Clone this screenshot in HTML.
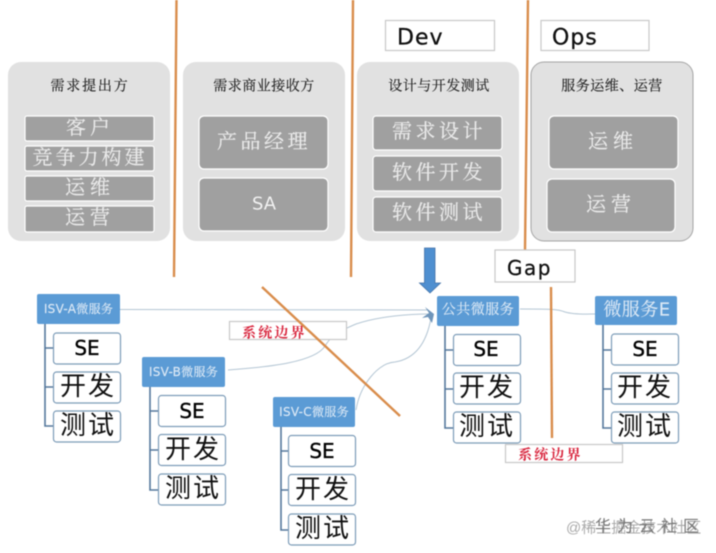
<!DOCTYPE html>
<html lang="zh-CN"><head><meta charset="utf-8">
<style>
html,body{margin:0;padding:0;background:#fff}
svg{display:block;filter:blur(.45px)}
text{text-anchor:middle;dominant-baseline:central}
.t{font-family:"Liberation Serif","Noto Serif CJK SC",serif;font-size:14px;letter-spacing:1.800px;fill:#222;stroke:#222;stroke-width:.15}
.w{font-family:"Liberation Serif","Noto Serif CJK SC",serif;font-size:20px;letter-spacing:3.500px;fill:#eaeaea;stroke:#eaeaea;stroke-width:.2}
.sa{font-family:"DejaVu Sans",sans-serif;font-size:18px;fill:#f2f2f2;letter-spacing:0}
.h{font-family:"DejaVu Sans",sans-serif;font-size:22px;letter-spacing:1px;fill:#111;stroke:#111;stroke-width:.3;text-anchor:start}
.b{font-family:"DejaVu Sans","Noto Serif CJK SC",sans-serif;font-size:12px;letter-spacing:.3px;fill:#dbe8f5;stroke:#dbe8f5;stroke-width:.15}
.c{font-family:"Liberation Sans","Noto Sans CJK SC",sans-serif;font-size:26px;letter-spacing:2px;fill:#111}
.se{font-family:"DejaVu Sans",sans-serif;font-size:20px;fill:#000;stroke:#000;stroke-width:.35;letter-spacing:0}
.r{font-family:"Liberation Serif","Noto Serif CJK SC",serif;font-size:14px;font-weight:700;letter-spacing:2.200px;fill:#d8243c;text-anchor:start}
.wm{font-family:"Liberation Sans","Noto Sans CJK SC",sans-serif;font-size:15px;fill:#8a8a8a;text-anchor:start}
rect.p{fill:#e1e1e1}
rect.i{fill:#a0a0a0;stroke:#fff;stroke-width:1.200}
rect.n{fill:#5b9bd5}
rect.k{fill:#fff;stroke:#7d9cb8;stroke-width:1.200}
rect.l{fill:#fff;stroke:#c8c8c8;stroke-width:1.200}
path.o{stroke:#d98d4c;stroke-width:2.400;fill:none}
path.tr{stroke:#55789c;stroke-width:1.600;fill:none}
path.cn{stroke:#b4c6d4;stroke-width:1;fill:none}
</style></head>
<body>
<svg width="716" height="553" viewBox="0 0 716 553" xmlns="http://www.w3.org/2000/svg">
<rect width="716" height="553" fill="#fff"/>

<!-- orange dividers -->
<path class="o" d="M176.500 0L174 277M353 0L351 277M528 0L525 250"/>

<!-- header labels -->
<rect class="l" x="385.500" y="20.500" width="109" height="30"/>
<text class="h" x="397" y="38">Dev</text>
<rect class="l" x="541" y="20.500" width="108" height="30"/>
<text class="h" x="552" y="38">Ops</text>

<!-- panels -->
<rect class="p" x="8" y="62" width="162" height="179" rx="13"/>
<rect class="p" x="183" y="62" width="162" height="179" rx="13"/>
<rect class="p" x="357" y="62" width="162" height="179" rx="13"/>
<rect class="p" x="531" y="62" width="162" height="179" rx="13" stroke="#a5a5a5" stroke-width="1"/>

<text class="t" x="90" y="87">需求提出方</text>
<text class="t" x="264" y="87" style="letter-spacing:.5px">需求商业接收方</text>
<text class="t" x="439" y="87" style="letter-spacing:.5px">设计与开发测试</text>
<text class="t" x="612" y="87" style="letter-spacing:.5px">服务运维、运营</text>

<rect class="i" x="25" y="116" width="129" height="25" rx="2"/>
<rect class="i" x="25" y="146" width="129" height="25" rx="2"/>
<rect class="i" x="25" y="176" width="129" height="25" rx="2"/>
<rect class="i" x="25" y="206" width="129" height="26" rx="2"/>
<text class="w" x="90" y="128" style="letter-spacing:4px">客户</text>
<text class="w" x="90" y="158" style="letter-spacing:3px">竞争力构建</text>
<text class="w" x="90" y="188" style="letter-spacing:5px">运维</text>
<text class="w" x="90" y="218" style="letter-spacing:5px">运营</text>

<rect class="i" x="199" y="116" width="129" height="53" rx="5"/>
<rect class="i" x="199" y="178" width="129" height="53" rx="5"/>
<text class="w" x="264" y="142">产品经理</text>
<text class="sa" x="264" y="204">SA</text>

<rect class="i" x="373" y="116" width="129" height="34" rx="3"/>
<rect class="i" x="373" y="156" width="129" height="35" rx="3"/>
<rect class="i" x="373" y="197" width="129" height="35" rx="3"/>
<text class="w" x="439" y="132">需求设计</text>
<text class="w" x="439" y="173">软件开发</text>
<text class="w" x="439" y="213">软件测试</text>

<rect class="i" x="549" y="116" width="129" height="53" rx="5"/>
<rect class="i" x="547" y="179" width="128" height="53" rx="5"/>
<text class="w" x="613" y="142" style="letter-spacing:5px">运维</text>
<text class="w" x="611" y="205" style="letter-spacing:5px">运营</text>

<!-- gap label -->
<rect class="l" x="495" y="250" width="80" height="32"/>
<text class="h" x="507" y="268" style="font-size:20px;letter-spacing:1.500px">Gap</text>

<!-- big arrow -->
<path d="M424.500 248H435V283H440.500L430 293L419.500 283H424.500Z" fill="#4f8fd0" stroke="#4372a8" stroke-width=".8"/>

<!-- connectors -->
<path class="cn" d="M120 309.500L428 310"/>
<path class="cn" d="M228 370C270 367 315 362 325 346C332 335 335 333 356 324C380 316 410 314 430 314"/>
<path class="cn" d="M356 410C360 385 378 363 395 362C420 358 428 335 431 318"/>
<path class="cn" d="M520 309C550 309 558 309 565 312C575 315 590 314 595 314"/>
<path d="M425 307L434 314L432 323L428 317L422 318L429 313Z" fill="#6f95ba"/>

<!-- system boundary labels -->
<rect class="l" x="229.500" y="321.500" width="117" height="18"/>
<text class="r" x="242" y="334">系统边界</text>
<rect class="l" x="505.500" y="444.500" width="117" height="18"/>
<text class="r" x="518" y="456">系统边界</text>

<!-- orange lines above labels -->
<path class="o" d="M262 287L400 416"/>
<path class="o" d="M551 287L552 438"/>

<!-- ISV-A -->
<rect class="n" x="37" y="294" width="83" height="30" rx="2"/>
<text class="b" x="78.500" y="309">ISV-A微服务</text>
<path class="tr" d="M45 324V426H53M45 348H53M45 387H53"/>
<rect class="k" x="53.500" y="333" width="67" height="31" rx="3"/>
<rect class="k" x="53.500" y="372" width="67" height="31" rx="3"/>
<rect class="k" x="53.500" y="411" width="67" height="31" rx="3"/>
<text class="se" x="87" y="348">SE</text>
<text class="c" x="88" y="386">开发</text>
<text class="c" x="88" y="425">测试</text>

<!-- ISV-B -->
<rect class="n" x="142" y="357" width="83" height="30" rx="2"/>
<text class="b" x="183.500" y="372">ISV-B微服务</text>
<path class="tr" d="M150 387V490H158M150 411H158M150 450H158"/>
<rect class="k" x="158.500" y="395.500" width="67" height="31" rx="3"/>
<rect class="k" x="158.500" y="434.500" width="67" height="31" rx="3"/>
<rect class="k" x="158.500" y="474" width="67" height="31" rx="3"/>
<text class="se" x="192" y="411">SE</text>
<text class="c" x="193" y="449">开发</text>
<text class="c" x="193" y="488">测试</text>

<!-- ISV-C -->
<rect class="n" x="273" y="397" width="82" height="30" rx="2"/>
<text class="b" x="314" y="412">ISV-C微服务</text>
<path class="tr" d="M281 427V530H288M281 451H288M281 490H288"/>
<rect class="k" x="288.500" y="435.500" width="67" height="31" rx="3"/>
<rect class="k" x="288.500" y="474.500" width="67" height="31" rx="3"/>
<rect class="k" x="288.500" y="514" width="67" height="31" rx="3"/>
<text class="se" x="322" y="451">SE</text>
<text class="c" x="323" y="489">开发</text>
<text class="c" x="323" y="528">测试</text>

<!-- common -->
<rect class="n" x="437" y="296" width="82" height="30" rx="2"/>
<text class="b" x="478" y="310" style="font-size:14px;letter-spacing:.5px">公共微服务</text>
<path class="tr" d="M445 326V428H453M445 350H453M445 389H453"/>
<rect class="k" x="453.500" y="334.500" width="67" height="31" rx="3"/>
<rect class="k" x="453.500" y="373" width="67" height="31" rx="3"/>
<rect class="k" x="453.500" y="412" width="67" height="31" rx="3"/>
<text class="se" x="486" y="349">SE</text>
<text class="c" x="487" y="387">开发</text>
<text class="c" x="487" y="426">测试</text>

<!-- E -->
<rect class="n" x="595" y="296" width="82" height="29" rx="2"/>
<text class="b" x="637" y="310" style="font-size:18px;letter-spacing:.5px">微服务E</text>
<path class="tr" d="M603 325V428H611M603 350H611M603 389H611"/>
<rect class="k" x="611.500" y="334" width="67" height="31" rx="3"/>
<rect class="k" x="611.500" y="373" width="67" height="31" rx="3"/>
<rect class="k" x="611.500" y="412" width="67" height="31" rx="3"/>
<text class="se" x="645" y="349">SE</text>
<text class="c" x="645" y="387">开发</text>
<text class="c" x="645" y="426">测试</text>

<!-- watermarks -->
<text class="wm" x="566" y="528" style="fill:#aaa">@稀土掘金技术社区</text>
<text class="wm" x="595" y="527" style="font-size:16px;letter-spacing:6px;fill:#777">华为云社区</text>
</svg>
</body></html>
